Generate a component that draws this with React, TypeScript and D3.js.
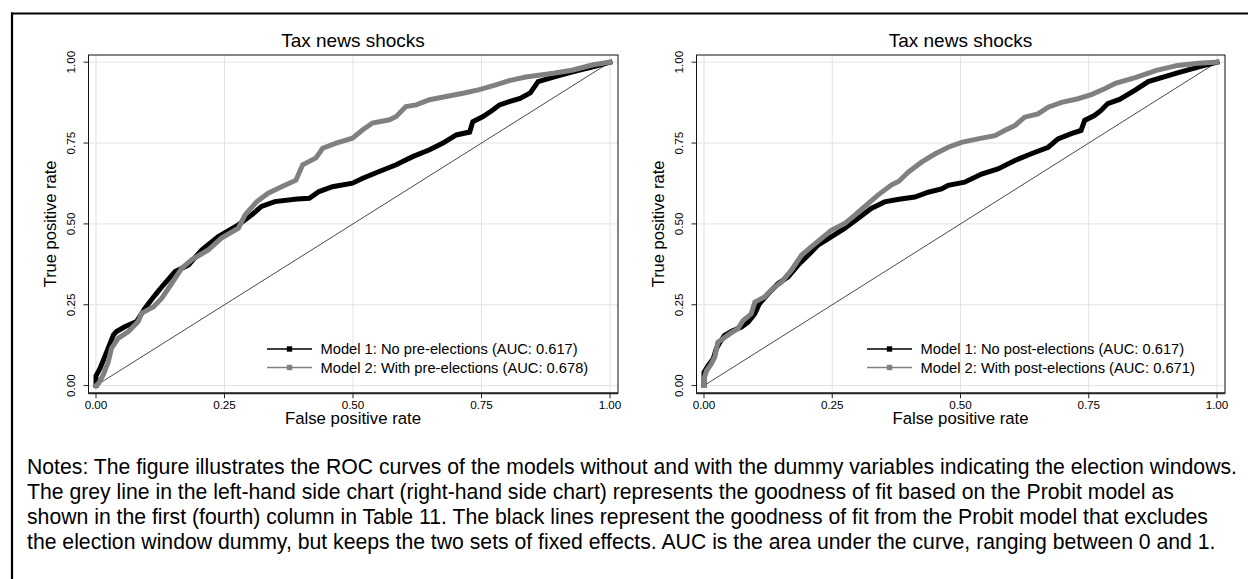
import React, { useLayoutEffect, useRef, useState } from 'react';
import * as d3 from 'd3';

// ---------- data ----------
const axisTicks = [0, 0.25, 0.5, 0.75, 1];
const tickLabels = ['0.00', '0.25', '0.50', '0.75', '1.00'];
const panelTitle = 'Tax news shocks';
const xAxisTitle = 'False positive rate';
const yAxisTitle = 'True positive rate';
const leftLegend = ['Model 1: No pre-elections (AUC: 0.617)', 'Model 2: With pre-elections (AUC: 0.678)'];
const rightLegend = ['Model 1: No post-elections (AUC: 0.617)', 'Model 2: With post-elections (AUC: 0.671)'];
const notesLines = [
  'Notes: The figure illustrates the ROC curves of the models without and with the dummy variables indicating the election windows.',
  'The grey line in the left-hand side chart (right-hand side chart) represents the goodness of fit based on the Probit model as',
  'shown in the first (fourth) column in Table 11. The black lines represent the goodness of fit from the Probit model that excludes',
  'the election window dummy, but keeps the two sets of fixed effects. AUC is the area under the curve, ranging between 0 and 1.',
];

// [false positive rate, true positive rate]
const leftModel1: [number, number][] = [
  [0, 0], [0, 0.03], [0.005, 0.045], [0.008, 0.054], [0.021, 0.105], [0.034, 0.157], [0.04, 0.167], [0.056, 0.182],
  [0.079, 0.198], [0.095, 0.239], [0.115, 0.28], [0.131, 0.311], [0.154, 0.353], [0.18, 0.373], [0.206, 0.42],
  [0.238, 0.461], [0.277, 0.497], [0.303, 0.528], [0.322, 0.554], [0.348, 0.569], [0.391, 0.577], [0.415, 0.579],
  [0.434, 0.6], [0.46, 0.615], [0.499, 0.626], [0.519, 0.641], [0.551, 0.662], [0.584, 0.683], [0.616, 0.708],
  [0.649, 0.729], [0.675, 0.75], [0.701, 0.775], [0.727, 0.784], [0.733, 0.816], [0.753, 0.832], [0.772, 0.852],
  [0.785, 0.868], [0.804, 0.878], [0.825, 0.888], [0.845, 0.905], [0.86, 0.94], [0.89, 0.954], [0.929, 0.971],
  [0.967, 0.986], [1, 1],
];
const leftModel2: [number, number][] = [
  [0, 0], [0.005, 0.007], [0.014, 0.033], [0.024, 0.074], [0.03, 0.115], [0.043, 0.146], [0.063, 0.167], [0.082, 0.198],
  [0.089, 0.224], [0.112, 0.244], [0.128, 0.27], [0.141, 0.301], [0.167, 0.363], [0.186, 0.389], [0.219, 0.42],
  [0.244, 0.456], [0.277, 0.487], [0.29, 0.528], [0.313, 0.569], [0.335, 0.595], [0.361, 0.615], [0.389, 0.635],
  [0.402, 0.683], [0.428, 0.704], [0.441, 0.734], [0.467, 0.75], [0.499, 0.765], [0.519, 0.791], [0.538, 0.812],
  [0.571, 0.822], [0.584, 0.832], [0.603, 0.863], [0.623, 0.868], [0.649, 0.884], [0.681, 0.894], [0.714, 0.904],
  [0.746, 0.915], [0.778, 0.93], [0.804, 0.943], [0.836, 0.954], [0.89, 0.966], [0.928, 0.976], [0.967, 0.992], [1, 1],
];
const rightModel1: [number, number][] = [
  [0, 0], [0, 0.041], [0.008, 0.062], [0.018, 0.083], [0.024, 0.114], [0.031, 0.134], [0.04, 0.155], [0.056, 0.17],
  [0.073, 0.181], [0.086, 0.196], [0.099, 0.222], [0.108, 0.253], [0.125, 0.284], [0.144, 0.315], [0.164, 0.336],
  [0.183, 0.372], [0.203, 0.403], [0.222, 0.434], [0.248, 0.46], [0.274, 0.486], [0.3, 0.517], [0.326, 0.548],
  [0.352, 0.568], [0.38, 0.576], [0.411, 0.583], [0.437, 0.598], [0.463, 0.608], [0.476, 0.619], [0.508, 0.629],
  [0.541, 0.654], [0.573, 0.67], [0.606, 0.696], [0.638, 0.717], [0.671, 0.737], [0.69, 0.763], [0.716, 0.779],
  [0.735, 0.789], [0.742, 0.82], [0.761, 0.835], [0.774, 0.851], [0.787, 0.872], [0.81, 0.885], [0.842, 0.915],
  [0.866, 0.94], [0.923, 0.967], [0.963, 0.985], [1, 1],
];
const rightModel2: [number, number][] = [
  [0, 0], [0, 0.021], [0.005, 0.046], [0.014, 0.067], [0.021, 0.088], [0.027, 0.134], [0.037, 0.145], [0.05, 0.16],
  [0.066, 0.176], [0.076, 0.201], [0.092, 0.222], [0.099, 0.258], [0.118, 0.274], [0.134, 0.3], [0.151, 0.32],
  [0.17, 0.356], [0.19, 0.403], [0.209, 0.429], [0.229, 0.455], [0.248, 0.48], [0.274, 0.501], [0.294, 0.527],
  [0.313, 0.553], [0.339, 0.589], [0.365, 0.62], [0.38, 0.632], [0.398, 0.66], [0.424, 0.691], [0.45, 0.716],
  [0.476, 0.737], [0.502, 0.752], [0.534, 0.763], [0.567, 0.773], [0.586, 0.789], [0.606, 0.804], [0.625, 0.83],
  [0.651, 0.84], [0.671, 0.861], [0.697, 0.876], [0.729, 0.887], [0.755, 0.9], [0.781, 0.918], [0.802, 0.935],
  [0.842, 0.953], [0.882, 0.975], [0.923, 0.99], [0.963, 0.997], [1, 1],
];

// ---------- layout ----------
const W = 1248;
const H = 579;
const FONT = "Arial, 'Liberation Sans', sans-serif";
const Y_TOP = 62.2;
const Y_BOTTOM = 385.6;

type PanelProps = {
  x0: number;
  x1: number;
  legend: string[];
  legendX: number;
  model1: [number, number][];
  model2: [number, number][];
};

function Panel({ x0, x1, legend, legendX, model1, model2 }: PanelProps) {
  const x = d3.scaleLinear().domain([0, 1]).range([x0, x1]);
  const y = d3.scaleLinear().domain([0, 1]).range([Y_BOTTOM, Y_TOP]);
  const line = d3
    .line<[number, number]>()
    .x((d) => x(d[0]))
    .y((d) => y(d[1]));
  const frameL = x0 - 7.5;
  const frameR = x1 + 8;
  const frameT = 55;
  const frameB = 393.3;
  const cx = (x0 + x1) / 2;
  const cy = (Y_TOP + Y_BOTTOM) / 2;
  const legendRows = [
    { label: legend[0], color: '#000000', yc: 349 },
    { label: legend[1], color: '#808080', yc: 367.5 },
  ];
  return (
    <g>
      <text x={cx} y={46.5} textAnchor="middle" fontSize={19} fontFamily={FONT} fill="#000">
        {panelTitle}
      </text>
      {axisTicks.map((t) => (
        <line key={'gx' + t} x1={x(t)} x2={x(t)} y1={frameT} y2={frameB} stroke="#e3e3e3" strokeWidth={1} />
      ))}
      {axisTicks.map((t) => (
        <line key={'gy' + t} x1={frameL} x2={frameR} y1={y(t)} y2={y(t)} stroke="#e3e3e3" strokeWidth={1} />
      ))}
      <line x1={x(0)} y1={y(0)} x2={x(1)} y2={y(1)} stroke="#333" strokeWidth={0.9} />
      <path d={line(model1) || ''} fill="none" stroke="#000" strokeWidth={5} strokeLinejoin="miter" strokeLinecap="square" />
      <path d={line(model2) || ''} fill="none" stroke="#808080" strokeWidth={5} strokeLinejoin="miter" strokeLinecap="square" />
      <rect x={frameL} y={frameT} width={frameR - frameL} height={frameB - frameT} fill="none" stroke="#111" strokeWidth={1} />
      <line x1={frameL} x2={frameR} y1={frameB} y2={frameB} stroke="#222" strokeWidth={2} />
      {axisTicks.map((t, i) => (
        <g key={'tx' + t}>
          <line x1={x(t)} x2={x(t)} y1={frameB} y2={frameB + 5} stroke="#222" strokeWidth={1} />
          <text x={x(t)} y={Y_BOTTOM + 23} textAnchor="middle" fontSize={11.7} fontFamily={FONT} fill="#000">
            {tickLabels[i]}
          </text>
        </g>
      ))}
      {axisTicks.map((t, i) => (
        <g key={'ty' + t}>
          <line x1={frameL} x2={frameL - 5} y1={y(t)} y2={y(t)} stroke="#222" strokeWidth={1} />
          <text
            transform={`translate(${x0 - 21},${y(t)}) rotate(-90)`}
            textAnchor="middle"
            fontSize={11.7}
            fontFamily={FONT}
            fill="#000"
          >
            {tickLabels[i]}
          </text>
        </g>
      ))}
      <text x={cx} y={Y_BOTTOM + 38.5} textAnchor="middle" fontSize={16.8} fontFamily={FONT} fill="#000">
        {xAxisTitle}
      </text>
      <text
        transform={`translate(${x0 - 40},${cy}) rotate(-90)`}
        textAnchor="middle"
        fontSize={16.5}
        fontFamily={FONT}
        fill="#000"
      >
        {yAxisTitle}
      </text>
      {legendRows.map((r) => (
        <g key={r.label}>
          <line x1={legendX} x2={legendX + 45} y1={r.yc} y2={r.yc} stroke={r.color} strokeWidth={1.4} />
          <rect x={legendX + 22.5 - 2.7} y={r.yc - 2.7} width={5.4} height={5.4} fill={r.color} />
          <text x={legendX + 53.5} y={r.yc + 5.2} fontSize={14.7} fontFamily={FONT} fill="#000">
            {r.label}
          </text>
        </g>
      ))}
    </g>
  );
}

export default function App() {
  const firstLine = useRef<SVGTextElement>(null);
  const [notesSize, setNotesSize] = useState(19.5);
  useLayoutEffect(() => {
    const el = firstLine.current;
    if (!el) return;
    const w = el.getComputedTextLength();
    if (w > 0) {
      const target = 1210;
      const next = (notesSize * target) / w;
      if (Math.abs(next - notesSize) > 0.01) setNotesSize(next);
    }
  }, [notesSize]);

  return (
    <svg
      width={W}
      height={H}
      viewBox={`0 0 ${W} ${H}`}
      style={{ position: 'absolute', left: 0, top: 0, display: 'block', background: '#fff' }}
    >
      <rect x={0} y={0} width={W} height={H} fill="#fff" />
      <line x1={11} x2={W} y1={13.5} y2={13.5} stroke="#000" strokeWidth={2.2} />
      <line x1={12} x2={12} y1={12.5} y2={H} stroke="#000" strokeWidth={2.2} />
      <Panel x0={96} x1={610} legend={leftLegend} legendX={267} model1={leftModel1} model2={leftModel2} />
      <Panel x0={704} x1={1217} legend={rightLegend} legendX={867} model1={rightModel1} model2={rightModel2} />
      {notesLines.map((t, i) => (
        <text
          key={i}
          ref={i === 0 ? firstLine : undefined}
          x={27}
          y={474 + i * 25}
          fontSize={notesSize}
          fontFamily={FONT}
          fill="#000"
        >
          {t}
        </text>
      ))}
    </svg>
  );
}
